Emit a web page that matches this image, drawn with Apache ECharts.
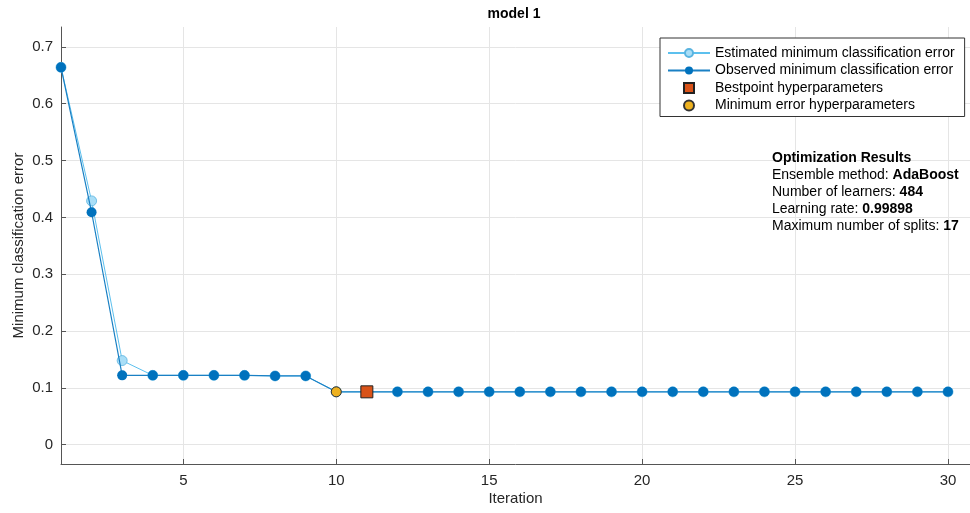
<!DOCTYPE html>
<html>
<head>
<meta charset="utf-8">
<script src="https://cdn.jsdelivr.net/npm/echarts@6/dist/echarts.min.js"></script>
<style>html,body{margin:0;padding:0;background:#fff}#c{width:970px;height:513px}</style>
</head>
<body>
<div id="c"></div>
<script>
const iterations = [1,2,3,4,5,6,7,8,9,10,11,12,13,14,15,16,17,18,19,20,21,22,23,24,25,26,27,28,29,30];
const observed = [0.664,0.409,0.122,0.122,0.122,0.122,0.122,0.121,0.121,0.093,0.093,0.093,0.093,0.093,0.093,0.093,0.093,0.093,0.093,0.093,0.093,0.093,0.093,0.093,0.093,0.093,0.093,0.093,0.093,0.093];
const estimated = [0.664,0.429,0.148,0.122,0.122,0.122,0.122,0.121,0.121,0.093,0.093,0.093,0.093,0.093,0.093,0.093,0.093,0.093,0.093,0.093,0.093,0.093,0.093,0.093,0.093,0.093,0.093,0.093,0.093,0.093];
const bestpoint = [[11, 0.093]];
const minErrorPoint = [[10, 0.093]];
const xTicks = [5,10,15,20,25,30];
const yTicks = [0,0.1,0.2,0.3,0.4,0.5,0.6,0.7];
const resultLines = [
  ['Optimization Results', ''],
  ['Ensemble method: ', 'AdaBoost'],
  ['Number of learners: ', '484'],
  ['Learning rate: ', '0.99898'],
  ['Maximum number of splits: ', '17']
];

const font = '"Liberation Sans", Arial, Helvetica, sans-serif';
const txt = '#262626';
const chart = echarts.init(document.getElementById('c'), null, {renderer: 'canvas'});

const resultText = resultLines.map((l, i) => i === 0 ? '{b|' + l[0] + '}' : '{n|' + l[0] + '}{b|' + l[1] + '}').join('\n');

chart.setOption({
  animation: false,
  backgroundColor: '#fff',
  textStyle: {fontFamily: font},
  title: {
    text: 'model 1', left: 509, top: 2, textAlign: 'center',
    textStyle: {fontSize: 14, fontWeight: 'bold', color: '#000', fontFamily: font}
  },
  grid: {left: 61, right: 0, top: 27, bottom: 49, containLabel: false, outerBoundsMode: 'none'},
  xAxis: {
    type: 'value', min: 1, max: 30.72,
    name: 'Iteration', nameLocation: 'middle', nameGap: 27, nameMoveOverlap: false,
    nameTextStyle: {fontSize: 15, color: txt, fontFamily: font},
    axisLine: {show: true, onZero: false, lineStyle: {color: '#555', width: 1}},
    axisTick: {show: true, inside: true, length: 5, customValues: xTicks, lineStyle: {color: '#555'}},
    axisLabel: {customValues: xTicks, fontSize: 15, color: txt, margin: 9, fontFamily: font},
    splitLine: {show: true, lineStyle: {color: '#e5e5e5', width: 1}}
  },
  yAxis: {
    type: 'value', min: -0.034, max: 0.735,
    name: 'Minimum classification error', nameLocation: 'middle', nameGap: 35, nameMoveOverlap: false,
    nameTextStyle: {fontSize: 15, color: txt, fontFamily: font},
    axisLine: {show: true, onZero: false, lineStyle: {color: '#555', width: 1}},
    axisTick: {show: true, inside: true, length: 5, customValues: yTicks, lineStyle: {color: '#555'}},
    axisLabel: {customValues: yTicks, fontSize: 15, color: txt, margin: 8, fontFamily: font,
      formatter: v => (Math.abs(v) < 1e-9 ? '0' : (+v.toFixed(1)).toString())},
    splitLine: {show: true, lineStyle: {color: '#e5e5e5', width: 1}}
  },
  legend: {
    left: 660, top: 38, orient: 'vertical',
    backgroundColor: '#fff', borderColor: '#333', borderWidth: 1, borderRadius: 0,
    padding: [7, 10, 3, 7], itemWidth: 42, itemHeight: 10, itemGap: 1.5,
    textStyle: {fontSize: 14, color: '#000', fontFamily: font, lineHeight: 16},
    data: [
      {name: 'Estimated minimum classification error'},
      {name: 'Observed minimum classification error'},
      {name: 'Bestpoint hyperparameters', icon: 'path://M0,0L10,0L10,10L0,10Z'},
      {name: 'Minimum error hyperparameters', icon: 'circle'}
    ]
  },
  graphic: [{
    type: 'text', left: 772, top: 149.5,
    style: {
      text: resultText, fontSize: 14, lineHeight: 17, fill: '#000', fontFamily: font,
      rich: {
        b: {fontWeight: 'bold', fontSize: 14, fill: '#000', fontFamily: font, lineHeight: 17},
        n: {fontSize: 14, fill: '#000', fontFamily: font, lineHeight: 17}
      }
    },
    z: 100
  }],
  series: [
    {
      name: 'Estimated minimum classification error', type: 'line',
      data: iterations.map((x, i) => [x, estimated[i]]),
      symbol: 'circle', symbolSize: 10,
      lineStyle: {color: '#5cc0ee', width: 1},
      itemStyle: {color: '#a9def7', borderColor: '#5ab4e0', borderWidth: 0.8},
      z: 2
    },
    {
      name: 'Observed minimum classification error', type: 'line',
      data: iterations.map((x, i) => [x, observed[i]]),
      symbol: 'circle', symbolSize: 10,
      lineStyle: {color: '#1a80c4', width: 1.2},
      itemStyle: {color: '#0072BD', borderColor: '#0072BD', borderWidth: 0},
      z: 3
    },
    {
      name: 'Bestpoint hyperparameters', type: 'scatter',
      data: bestpoint, symbol: 'rect', symbolSize: 12,
      itemStyle: {color: '#D95319', borderColor: '#222', borderWidth: 1, opacity: 1},
      z: 5
    },
    {
      name: 'Minimum error hyperparameters', type: 'scatter',
      data: minErrorPoint, symbol: 'circle', symbolSize: 10,
      itemStyle: {color: '#EDB120', borderColor: '#333', borderWidth: 1, opacity: 1},
      z: 5
    }
  ]
});
</script>
</body>
</html>
